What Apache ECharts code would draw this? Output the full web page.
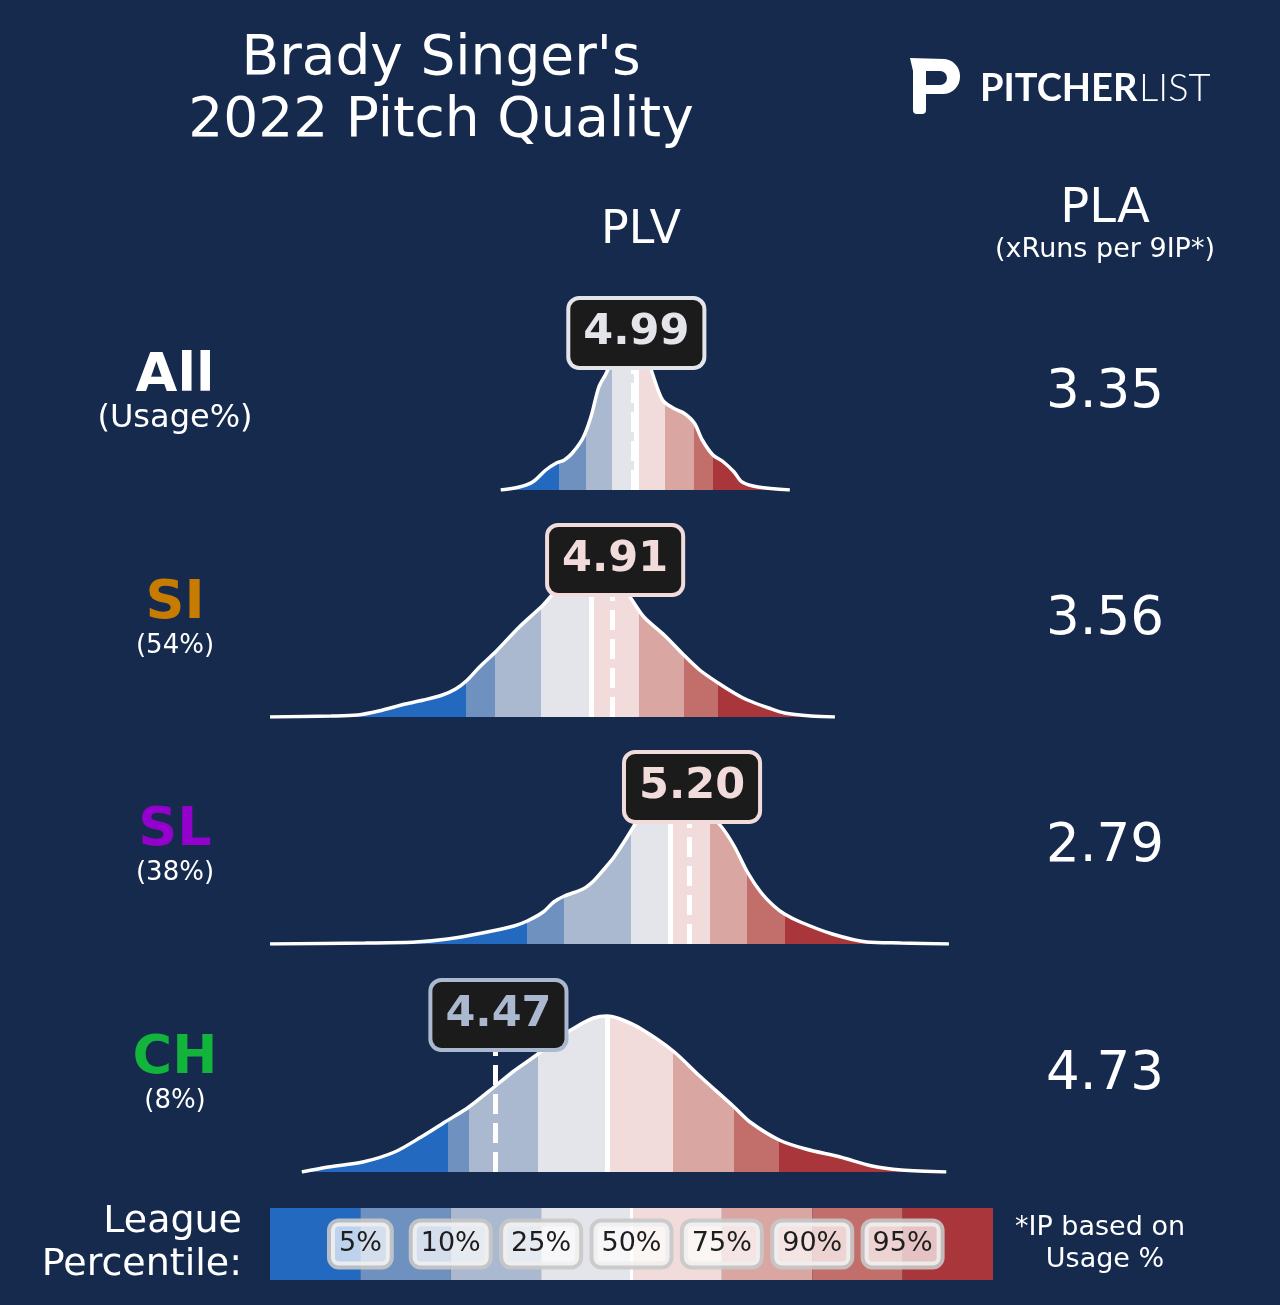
<!DOCTYPE html>
<html lang="en">
<head>
<meta charset="utf-8">
<title>Brady Singer's 2022 Pitch Quality</title>
<script src="https://cdn.jsdelivr.net/npm/echarts@6/dist/echarts.min.js"></script>
<style>
  html, body { margin: 0; padding: 0; background: #162a4e; }
  #main { width: 1280px; height: 1305px; }
</style>
</head>
<body>
<div id="main"></div>
<script>
// rows
const pitchTypes = ['All', 'SI', 'SL', 'CH'];
const usageLabels = ['(Usage%)', '(54%)', '(38%)', '(8%)'];
const plvValues = [4.99, 4.91, 5.20, 4.47];
const plaValues = ['3.35', '3.56', '2.79', '4.73'];

// density curves (x = PLV, y = density)
const allX = [4.49, 4.56, 4.61, 4.66, 4.70, 4.73, 4.76, 4.80, 4.83, 4.86, 4.89, 4.93, 4.98, 5.02, 5.06, 5.10, 5.14, 5.18, 5.22, 5.25, 5.29, 5.33, 5.37, 5.40, 5.46, 5.58];
const allY = [0, 0.03, 0.08, 0.20, 0.27, 0.30, 0.37, 0.52, 0.73, 1.03, 1.18, 1.48, 1.58, 1.50, 1.18, 0.90, 0.82, 0.77, 0.67, 0.50, 0.35, 0.28, 0.18, 0.08, 0.03, 0];

const siX = [3.62, 3.85, 3.95, 4.03, 4.13, 4.20, 4.27, 4.32, 4.36, 4.41, 4.47, 4.56, 4.65, 4.71, 4.79, 4.86, 4.94, 4.98, 5.03, 5.11, 5.18, 5.24, 5.31, 5.37, 5.42, 5.50, 5.56, 5.66, 5.75];
const siY = [0, 0.01, 0.02, 0.06, 0.13, 0.17, 0.22, 0.28, 0.36, 0.50, 0.65, 0.90, 1.12, 1.29, 1.39, 1.41, 1.33, 1.19, 1.00, 0.81, 0.62, 0.47, 0.34, 0.24, 0.17, 0.09, 0.04, 0.01, 0];

const slX = [3.62, 3.98, 4.17, 4.29, 4.42, 4.54, 4.59, 4.65, 4.69, 4.73, 4.80, 4.84, 4.88, 4.92, 4.99, 5.05, 5.15, 5.24, 5.32, 5.37, 5.42, 5.47, 5.52, 5.56, 5.62, 5.74, 5.87, 6.00, 6.18];
const slY = [0, 0.01, 0.02, 0.05, 0.11, 0.18, 0.23, 0.32, 0.42, 0.48, 0.55, 0.63, 0.75, 0.88, 1.17, 1.45, 1.55, 1.40, 1.18, 0.98, 0.72, 0.52, 0.38, 0.30, 0.22, 0.10, 0.02, 0.01, 0];

const chX = [3.74, 3.84, 3.97, 4.09, 4.19, 4.28, 4.37, 4.47, 4.54, 4.62, 4.69, 4.78, 4.84, 4.89, 4.94, 5.02, 5.14, 5.24, 5.37, 5.43, 5.54, 5.64, 5.77, 5.89, 6.00, 6.17];
const chY = [0, 0.05, 0.10, 0.20, 0.35, 0.50, 0.65, 0.86, 1.01, 1.16, 1.31, 1.46, 1.54, 1.56, 1.53, 1.43, 1.21, 0.96, 0.65, 0.50, 0.32, 0.23, 0.15, 0.06, 0.02, 0];

// league percentiles 5,10,25,50,75,90,95
const allPct = [4.71, 4.81, 4.91, 5.00, 5.11, 5.22, 5.29];
const siPct = [4.36, 4.47, 4.64, 4.83, 5.01, 5.18, 5.31];
const slPct = [4.59, 4.73, 4.98, 5.13, 5.28, 5.42, 5.56];
const chPct = [4.29, 4.37, 4.63, 4.89, 5.14, 5.37, 5.54];
const percentileLabels = ['5%', '10%', '25%', '50%', '75%', '90%', '95%'];

const bandColors = ['#2469c0', '#6f91bf', '#aab9d0', '#e4e5ea', '#f2dcdb', '#d9a6a2', '#c26f6b', '#a8363a'];
const typeColors = ['#ffffff', '#c77b00', '#9400cc', '#12b43c'];

const curves = [[allX, allY], [siX, siY], [slX, slY], [chX, chY]];
const pcts = [allPct, siPct, slPct, chPct];

const BG = '#162a4e';
const FONT = 'DejaVu Sans';
const baselines = [490, 717, 944, 1172];
const rowH = 200;        // px per grid, y max 2 -> 100px per unit
const boxLevel = 1.57;   // where the PLV box sits
const xMin = 3.62, xMax = 6.184;

function hAt(xs, ys, v) {
  for (let k = 1; k < xs.length; k++) {
    if (v <= xs[k]) {
      const t = (v - xs[k - 1]) / (xs[k] - xs[k - 1]);
      return ys[k - 1] + t * (ys[k] - ys[k - 1]);
    }
  }
  return 0;
}
function bandOf(v, pct) {
  let k = 0;
  while (k < pct.length && v >= pct[k]) k++;
  return bandColors[k];
}

const grid = [], xAxis = [], yAxis = [], series = [], visualMap = [];
const hidden = { color: 'rgba(0,0,0,0)', opacity: 1 };

curves.forEach(([xs, ys], i) => {
  const base = baselines[i];
  const pct = pcts[i];
  const plv = plvValues[i];
  const boxColor = bandOf(plv, pct);
  grid.push({ left: 270, width: 680, top: base - rowH, height: rowH });
  xAxis.push({ type: 'value', gridIndex: i, min: xMin, max: xMax, show: false });
  yAxis.push({ type: 'value', gridIndex: i, min: 0, max: 2, show: false });

  const pieces = [{ lt: pct[0], color: bandColors[0] }];
  for (let k = 1; k < pct.length; k++) pieces.push({ gte: pct[k - 1], lt: pct[k], color: bandColors[k] });
  pieces.push({ gte: pct[pct.length - 1], color: bandColors[bandColors.length - 1] });

  visualMap.push({ type: 'piecewise', show: false, dimension: 0, seriesIndex: series.length, pieces: pieces });

  const median = pct[3];
  series.push({
    type: 'line', xAxisIndex: i, yAxisIndex: i,
    data: xs.map((v, k) => [v, ys[k]]),
    smooth: 0.3, symbol: 'none', silent: true, z: 2,
    lineStyle: { color: '#ffffff', width: 3.5 },
    areaStyle: { opacity: 1 },
    markLine: {
      silent: true, symbol: ['none', 'none'], label: { show: false },
      data: [
        [{ coord: [median, 0], lineStyle: { color: '#ffffff', width: 5, type: 'solid' } }, { coord: [median, hAt(xs, ys, median)] }],
        [{ coord: [plv, 0], lineStyle: { color: '#ffffff', width: 5, type: [20, 9] } }, { coord: [plv, boxLevel] }]
      ]
    }
  });

  series.push({
    type: 'scatter', xAxisIndex: i, yAxisIndex: i, z: 10, silent: true,
    symbolSize: 1, itemStyle: hidden,
    data: [[plv, boxLevel]],
    label: {
      show: true, position: 'inside', offset: [3, 0], formatter: plv.toFixed(2),
      fontFamily: FONT, fontWeight: 'bold', fontSize: 43, lineHeight: 52,
      color: boxColor, backgroundColor: '#1b1b1b',
      borderColor: boxColor, borderWidth: 4, borderRadius: 9, padding: [7, 13]
    }
  });
});

// colour bar legend
grid.push({ left: 270, width: 723, top: 1208, height: 72 });
xAxis.push({ type: 'category', gridIndex: 4, data: bandColors.map((c, k) => String(k)), show: false });
xAxis.push({ type: 'value', gridIndex: 4, min: 0, max: 8, show: false });
yAxis.push({ type: 'value', gridIndex: 4, min: 0, max: 1, show: false });
series.push({
  type: 'bar', xAxisIndex: 4, yAxisIndex: 4, silent: true,
  barCategoryGap: '0%', barWidth: '100%',
  data: bandColors.map(c => ({ value: 1, itemStyle: { color: c } }))
});
series.push({
  type: 'scatter', xAxisIndex: 5, yAxisIndex: 4, z: 10, silent: true,
  symbolSize: 1, itemStyle: hidden,
  data: percentileLabels.map((t, k) => [k + 1, 0.5]),
  label: {
    show: true, position: 'inside',
    formatter: p => percentileLabels[p.dataIndex],
    fontFamily: FONT, fontSize: 27, lineHeight: 31, color: '#1e1e1e',
    backgroundColor: 'rgba(255,255,255,0.7)', borderColor: 'rgba(200,200,200,0.9)',
    borderWidth: 4, borderRadius: 8, padding: [6, 8]
  },
  markLine: {
    silent: true, symbol: ['none', 'none'], label: { show: false },
    lineStyle: { color: '#ffffff', width: 3, type: 'solid' },
    data: [{ xAxis: 4 }]
  }
});

function txt(text, x, y, size, opts) {
  return {
    type: 'text', z: 20, silent: true,
    style: Object.assign({
      text: text, x: x, y: y, fill: '#ffffff', fontFamily: FONT, fontSize: size,
      textAlign: 'center', textVerticalAlign: 'middle'
    }, opts || {})
  };
}

const graphic = [
  txt("Brady Singer's", 441, 60, 55),
  txt('2022 Pitch Quality', 441, 122, 55),
  txt('PLV', 641, 231, 46),
  txt('PLA', 1105, 210, 48),
  txt('(xRuns per 9IP*)', 1105, 250, 27),
  txt('League', 242, 1222, 38, { textAlign: 'right' }),
  txt('Percentile:', 242, 1265, 38, { textAlign: 'right' }),
  txt('*IP based on', 1100, 1228, 27),
  txt('Usage %', 1105, 1260, 27),
  txt('PITCHER', 980, 89, 38, { textAlign: 'left', fontFamily: 'Lato', fontWeight: 'bold' }),
  txt('LIST', 1139, 89, 38, { textAlign: 'left', fontFamily: 'Lato', fontWeight: 300 }),
  // logo mark
  { type: 'polygon', z: 20, silent: true, shape: { points: [[910, 58], [945, 59], [945, 71], [926, 71], [926, 110], [913, 110], [913, 71]] }, style: { fill: '#ffffff' } },
  { type: 'rect', z: 20, silent: true, shape: { x: 913, y: 95, width: 13, height: 19, r: 4 }, style: { fill: '#ffffff' } },
  { type: 'rect', z: 20, silent: true, shape: { x: 926, y: 59, width: 34, height: 35, r: [0, 17, 17, 0] }, style: { fill: '#ffffff' } },
  { type: 'rect', z: 21, silent: true, shape: { x: 926, y: 71, width: 21, height: 14, r: [0, 7, 7, 0] }, style: { fill: BG } }
];

pitchTypes.forEach((name, i) => {
  const base = baselines[i];
  graphic.push(txt(name, 175, base - 113, 54, { fontWeight: 'bold', fill: typeColors[i] }));
  graphic.push(txt(usageLabels[i], 175, base - 71, i === 0 ? 32 : 26));
  graphic.push(txt(plaValues[i], 1105, base - 97, 53));
});

const chart = echarts.init(document.getElementById('main'));
chart.setOption({
  backgroundColor: BG,
  animation: false,
  grid: grid,
  xAxis: xAxis,
  yAxis: yAxis,
  visualMap: visualMap,
  series: series,
  graphic: graphic
});
</script>
</body>
</html>
